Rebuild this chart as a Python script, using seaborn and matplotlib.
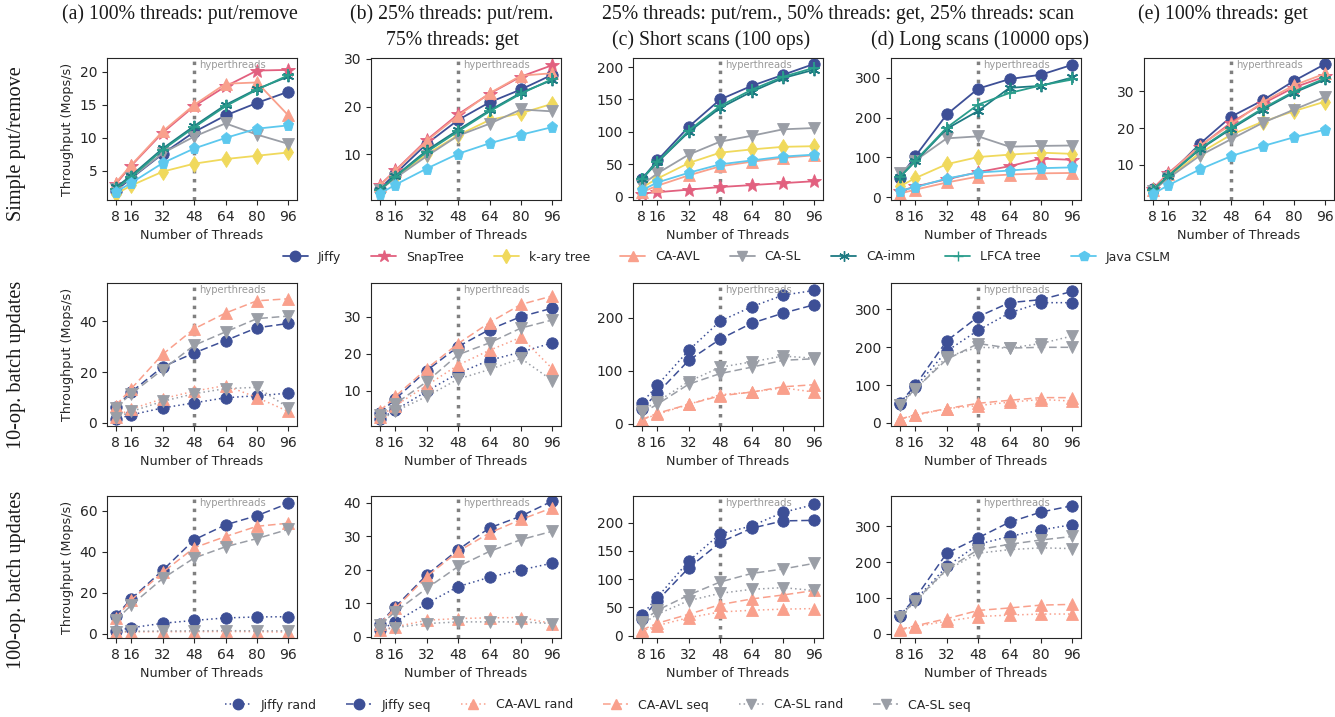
import numpy as np
import pandas as pd
import matplotlib.pyplot as plt
from matplotlib.lines import Line2D
import seaborn as sns

threads = [8, 16, 32, 48, 64, 80, 96]

# Row 1: single-operation workloads (Mops/s)
put_remove = {
    'Jiffy':     [2.0, 3.9, 7.6, 10.9, 13.4, 15.3, 17.0],
    'SnapTree':  [3.0, 5.8, 10.8, 14.8, 17.8, 20.2, 20.3],
    'k-ary tree': [1.5, 2.8, 4.9, 6.1, 6.8, 7.3, 7.8],
    'CA-AVL':    [3.2, 5.9, 11.0, 15.0, 18.2, 18.4, 13.4],
    'CA-SL':     [2.3, 4.0, 7.7, 10.2, 12.2, 10.5, 9.1],
    'CA-imm':    [2.5, 4.3, 8.4, 11.8, 15.0, 17.4, 19.3],
    'LFCA tree': [2.3, 4.1, 8.2, 11.6, 14.8, 17.3, 19.5],
    'Java CSLM': [1.8, 3.2, 6.2, 8.4, 10.0, 11.4, 11.9],
}
mixed_get = {
    'Jiffy':     [2.7, 5.9, 12.2, 17.2, 20.9, 23.6, 26.7],
    'SnapTree':  [3.5, 6.6, 13.0, 18.4, 22.7, 26.3, 28.7],
    'k-ary tree': [2.4, 5.2, 10.0, 14.0, 17.2, 18.6, 20.6],
    'CA-AVL':    [3.4, 6.5, 12.8, 18.1, 22.8, 26.5, 27.0],
    'CA-SL':     [2.5, 5.0, 9.6, 13.9, 16.4, 19.4, 19.0],
    'CA-imm':    [2.5, 5.4, 10.8, 15.1, 19.2, 22.9, 25.6],
    'LFCA tree': [2.5, 5.3, 10.5, 14.8, 19.0, 22.7, 25.8],
    'Java CSLM': [1.7, 3.6, 7.0, 10.1, 12.3, 14.1, 15.7],
}
short_scans = {
    'Jiffy':     [27, 56, 108, 150, 171, 188, 205],
    'SnapTree':  [5, 7, 11, 15, 18, 21, 24],
    'k-ary tree': [14, 28, 52, 68, 73, 77, 78],
    'CA-AVL':    [7, 17, 33, 47, 54, 60, 64],
    'CA-SL':     [18, 36, 65, 85, 94, 104, 106],
    'CA-imm':    [27, 53, 100, 137, 162, 183, 196],
    'LFCA tree': [27, 54, 102, 140, 165, 185, 199],
    'Java CSLM': [10, 22, 37, 50, 56, 62, 65],
}
long_scans = {
    'Jiffy':     [49, 103, 208, 273, 297, 308, 333],
    'SnapTree':  [15, 27, 45, 63, 78, 97, 94],
    'k-ary tree': [27, 48, 83, 101, 107, 112, 109],
    'CA-AVL':    [9, 19, 37, 52, 57, 60, 61],
    'CA-SL':     [60, 92, 148, 153, 127, 129, 130],
    'CA-imm':    [50, 90, 172, 217, 275, 280, 301],
    'LFCA tree': [50, 92, 175, 233, 262, 281, 296],
    'Java CSLM': [16, 25, 47, 62, 67, 73, 75],
}
all_get = {
    'Jiffy':     [3.4, 7.2, 15.7, 23.1, 27.5, 32.8, 37.4],
    'SnapTree':  [3.5, 7.8, 15.0, 21.5, 26.6, 31.0, 34.0],
    'k-ary tree': [3.0, 6.6, 13.2, 18.2, 21.7, 24.6, 27.2],
    'CA-AVL':    [3.3, 7.5, 15.2, 21.0, 27.0, 31.6, 34.8],
    'CA-SL':     [3.0, 6.4, 12.5, 17.0, 21.4, 25.0, 28.5],
    'CA-imm':    [3.2, 7.0, 14.2, 19.8, 25.0, 29.6, 33.2],
    'LFCA tree': [3.2, 7.0, 14.4, 20.1, 25.3, 29.9, 33.5],
    'Java CSLM': [2.1, 4.5, 8.8, 12.4, 15.1, 17.5, 19.6],
}

# Row 2: 10-op batch updates
b10_put = {
    'Jiffy rand':  [1.4, 3.2, 5.9, 7.9, 9.9, 10.7, 11.7],
    'Jiffy seq':   [6.3, 12.2, 22.1, 27.5, 32.4, 37.4, 39.1],
    'CA-AVL rand': [2.5, 5.5, 9.5, 12.5, 14.7, 10.0, 4.5],
    'CA-AVL seq':  [6.8, 13.5, 27.0, 37.0, 43.2, 48.0, 48.8],
    'CA-SL rand':  [2.0, 4.5, 8.5, 11.5, 13.5, 14.0, 6.0],
    'CA-SL seq':   [6.0, 11.5, 21.0, 30.5, 35.8, 41.0, 42.0],
}
b10_get = {
    'Jiffy rand':  [2.4, 4.8, 9.9, 14.8, 18.3, 20.5, 23.0],
    'Jiffy seq':   [4.0, 7.8, 15.5, 22.0, 26.6, 30.1, 32.4],
    'CA-AVL rand': [3.0, 6.0, 11.5, 17.0, 21.0, 24.5, 16.0],
    'CA-AVL seq':  [4.5, 8.5, 16.0, 22.8, 28.5, 33.4, 35.7],
    'CA-SL rand':  [2.0, 4.5, 8.5, 13.2, 15.8, 18.8, 12.8],
    'CA-SL seq':   [3.5, 6.5, 12.5, 19.8, 23.0, 27.0, 29.2],
}
b10_short = {
    'Jiffy rand':  [39, 73, 139, 194, 221, 243, 252],
    'Jiffy seq':   [28, 58, 120, 160, 190, 209, 225],
    'CA-AVL rand': [8, 18, 37, 55, 60, 68, 60],
    'CA-AVL seq':  [8, 20, 37, 53, 60, 70, 74],
    'CA-SL rand':  [25, 42, 80, 107, 117, 128, 124],
    'CA-SL seq':   [20, 37, 75, 95, 107, 120, 123],
}
b10_long = {
    'Jiffy rand':  [50, 95, 190, 245, 291, 318, 318],
    'Jiffy seq':   [52, 100, 217, 281, 318, 326, 348],
    'CA-AVL rand': [10, 20, 38, 46, 55, 62, 58],
    'CA-AVL seq':  [10, 22, 38, 52, 60, 67, 67],
    'CA-SL rand':  [48, 88, 175, 200, 198, 210, 230],
    'CA-SL seq':   [48, 90, 168, 210, 198, 200, 200],
}

# Row 3: 100-op batch updates
b100_put = {
    'Jiffy rand':  [1.5, 2.9, 5.1, 6.5, 7.7, 8.2, 8.3],
    'Jiffy seq':   [8.6, 17.1, 31.0, 45.9, 53.2, 57.7, 63.7],
    'CA-AVL rand': [0.8, 0.9, 1.0, 1.0, 1.1, 1.0, 0.8],
    'CA-AVL seq':  [7.5, 16.5, 30.0, 42.0, 47.5, 52.5, 54.0],
    'CA-SL rand':  [1.0, 1.2, 1.3, 1.4, 1.5, 1.4, 1.4],
    'CA-SL seq':   [6.5, 14.0, 27.0, 37.0, 42.5, 46.5, 51.0],
}
b100_get = {
    'Jiffy rand':  [2.0, 4.5, 10.0, 15.0, 17.8, 20.0, 22.0],
    'Jiffy seq':   [4.0, 9.0, 18.5, 26.0, 32.5, 36.0, 40.5],
    'CA-AVL rand': [2.0, 3.0, 5.0, 5.5, 5.7, 5.8, 4.0],
    'CA-AVL seq':  [4.0, 8.5, 18.0, 25.5, 31.0, 35.0, 38.5],
    'CA-SL rand':  [2.0, 2.8, 4.0, 4.5, 4.5, 4.5, 4.0],
    'CA-SL seq':   [3.5, 7.5, 14.5, 21.0, 25.5, 29.0, 31.5],
}
b100_short = {
    'Jiffy rand':  [36, 68, 132, 180, 194, 218, 232],
    'Jiffy seq':   [30, 62, 120, 165, 190, 203, 204],
    'CA-AVL rand': [8, 18, 32, 42, 45, 47, 48],
    'CA-AVL seq':  [10, 22, 38, 55, 65, 72, 80],
    'CA-SL rand':  [20, 38, 62, 75, 82, 85, 80],
    'CA-SL seq':   [25, 45, 72, 95, 110, 118, 128],
}
b100_long = {
    'Jiffy rand':  [50, 95, 188, 250, 272, 290, 305],
    'Jiffy seq':   [50, 100, 225, 268, 312, 340, 358],
    'CA-AVL rand': [10, 20, 35, 48, 52, 55, 55],
    'CA-AVL seq':  [12, 22, 42, 65, 72, 80, 82],
    'CA-SL rand':  [48, 90, 178, 225, 235, 240, 238],
    'CA-SL seq':   [48, 92, 180, 235, 250, 262, 272],
}

colors = {
    'Jiffy': '#3d4f96', 'SnapTree': '#e2607f', 'k-ary tree': '#f0d95c',
    'CA-AVL': '#f9a08c', 'CA-SL': '#9a9ea6', 'CA-imm': '#1d7a82',
    'LFCA tree': '#2a9d8c', 'Java CSLM': '#5cc8ee',
}
markers = {
    'Jiffy': 'o', 'SnapTree': '*', 'k-ary tree': 'd', 'CA-AVL': '^',
    'CA-SL': 'v', 'CA-imm': (6, 2, 0), 'LFCA tree': '+', 'Java CSLM': 'p',
}
dash_kinds = {'rand': (1, 2), 'seq': (5, 2.5)}

W, H = 1335, 717
sns.set_style('ticks')
plt.rcParams['font.family'] = ['DejaVu Sans']
fig = plt.figure(figsize=(W / 100, H / 100), dpi=100)

col_left = [107, 371, 633, 891, 1144]
row_box = [(58, 200), (283, 426), (496, 638)]


def make_ax(r, c):
    top, bot = row_box[r]
    return fig.add_axes([col_left[c] / W, 1 - bot / H, 190 / W, (bot - top) / H])


def draw(ax, data, ylim, yticks, first_col):
    for name, vals in data.items():
        parts = name.split()
        batch = parts[-1] in dash_kinds
        base = ' '.join(parts[:-1]) if batch else name
        col = colors[base]
        mk = markers[base]
        ls = (0, dash_kinds[parts[-1]]) if batch else '-'
        sns.lineplot(x=threads, y=vals, ax=ax, color=col, marker=mk,
                     markersize=10 if mk == '*' else 8.2,
                     markeredgecolor=col, markeredgewidth=1.3 if mk in ('+', (6, 2, 0)) else 0.6,
                     linewidth=1.1 if batch else 1.3, linestyle=ls)
    ax.axvline(48, color='#808080', ls=(0, (1, 1.6)), lw=2.5, zorder=1)
    ax.text(50.5, 0.985, 'hyperthreads', transform=ax.get_xaxis_transform(),
            ha='left', va='top', fontsize=7.2, color='#9a9a9a')
    ax.set_xticks(threads)
    ax.set_xlim(3.6, 100.4)
    ax.set_ylim(*ylim)
    ax.set_yticks(yticks)
    ax.tick_params(labelsize=10, length=3.5)
    ax.set_xlabel('Number of Threads', fontsize=9.2)
    ax.set_ylabel('Throughput (Mops/s)' if first_col else '', fontsize=9.2)


panels = [
    (0, 0, put_remove, (0.6, 22.1), [5, 10, 15, 20]),
    (0, 1, mixed_get, (0.4, 30.2), [10, 20, 30]),
    (0, 2, short_scans, (-5, 214), [0, 50, 100, 150, 200]),
    (0, 3, long_scans, (-7, 350), [0, 100, 200, 300]),
    (0, 4, all_get, (0.5, 39), [10, 20, 30]),
    (1, 0, b10_put, (-1.2, 55), [0, 20, 40]),
    (1, 1, b10_get, (0.5, 39.2), [10, 20, 30]),
    (1, 2, b10_short, (-4, 266), [0, 100, 200]),
    (1, 3, b10_long, (-8, 370), [0, 100, 200, 300]),
    (2, 0, b100_put, (-2.1, 67.3), [0, 20, 40, 60]),
    (2, 1, b100_get, (-0.3, 42), [0, 10, 20, 30, 40]),
    (2, 2, b100_short, (-4, 247), [0, 50, 100, 150, 200]),
    (2, 3, b100_long, (-12, 385), [0, 100, 200, 300]),
]
for r, c, data, ylim, yticks in panels:
    draw(make_ax(r, c), data, ylim, yticks, c == 0)

serif = ['Liberation Serif', 'DejaVu Serif']
tkw = dict(fontsize=14.2, family=serif, ha='center', va='center', color='#1a1a1a')
fig.text(180 / W, 1 - 14 / H, '(a) 100% threads: put/remove', **tkw)
fig.text(452 / W, 1 - 14 / H, '(b) 25% threads: put/rem.', **tkw)
fig.text(452 / W, 1 - 40 / H, '75% threads: get', **tkw)
fig.text(838 / W, 1 - 14 / H, '25% threads: put/rem., 50% threads: get, 25% threads: scan', **tkw)
fig.text(711 / W, 1 - 40 / H, '(c) Short scans (100 ops)', **tkw)
fig.text(980 / W, 1 - 40 / H, '(d) Long scans (10000 ops)', **tkw)
fig.text(1223 / W, 1 - 14 / H, '(e) 100% threads: get', **tkw)

rkw = dict(fontsize=14.6, family=serif, ha='center', va='center', rotation=90, color='#1a1a1a')
fig.text(17 / W, 1 - 144 / H, 'Simple put/remove', **rkw)
fig.text(17 / W, 1 - 365 / H, '10-op. batch updates', **rkw)
fig.text(17 / W, 1 - 580 / H, '100-op. batch updates', **rkw)

h1 = [Line2D([], [], color=colors[n], marker=markers[n], mec=colors[n], lw=1.3,
             ms=9 if n == 'SnapTree' else 7.5, label=n) for n in colors]
fig.legend(handles=h1, loc='center', bbox_to_anchor=(727 / W, 1 - 257 / H), ncol=8,
           frameon=False, fontsize=9, handlelength=2.0, columnspacing=2.4)

h2 = []
for n in ['Jiffy', 'CA-AVL', 'CA-SL']:
    for kind in ['rand', 'seq']:
        h2.append(Line2D([], [], color=colors[n], marker=markers[n], mec=colors[n], lw=1.1,
                         ls=(0, dash_kinds[kind]), ms=7.5, label=f'{n} {kind}'))
fig.legend(handles=h2, loc='center', bbox_to_anchor=(598 / W, 1 - 705 / H), ncol=6,
           frameon=False, fontsize=9, handlelength=2.0, columnspacing=2.4)

fig.savefig('out.png', dpi=100)
